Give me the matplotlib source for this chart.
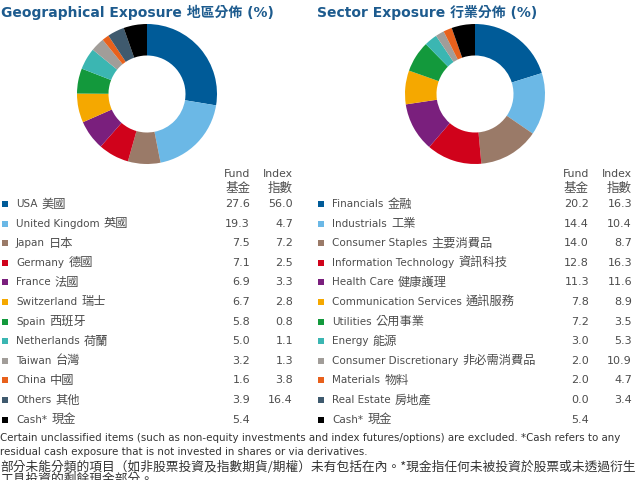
import matplotlib
matplotlib.use("Agg")
import matplotlib.pyplot as plt

plt.rcParams['font.family'] = ['DejaVu Sans', 'Noto Sans CJK TC']

W, H = 636, 480

# Geographical exposure
geo_labels = ["USA 美國", "United Kingdom 英國", "Japan 日本", "Germany 德國", "France 法國",
              "Switzerland 瑞士", "Spain 西班牙", "Netherlands 荷蘭", "Taiwan 台灣", "China 中國",
              "Others 其他", "Cash* 現金"]
geo_fund = [27.6, 19.3, 7.5, 7.1, 6.9, 6.7, 5.8, 5.0, 3.2, 1.6, 3.9, 5.4]
geo_index = ["56.0", "4.7", "7.2", "2.5", "3.3", "2.8", "0.8", "1.1", "1.3", "3.8", "16.4", ""]

# Sector exposure
sec_labels = ["Financials 金融", "Industrials 工業", "Consumer Staples 主要消費品",
              "Information Technology 資訊科技", "Health Care 健康護理",
              "Communication Services 通訊服務", "Utilities 公用事業", "Energy 能源",
              "Consumer Discretionary 非必需消費品", "Materials 物料", "Real Estate 房地產",
              "Cash* 現金"]
sec_fund = [20.2, 14.4, 14.0, 12.8, 11.3, 7.8, 7.2, 3.0, 2.0, 2.0, 0.0, 5.4]
sec_index = ["16.3", "10.4", "8.7", "16.3", "11.6", "8.9", "3.5", "5.3", "10.9", "4.7", "3.4", ""]

colors = ["#005b98", "#6bb8e6", "#9a7a68", "#d0021b", "#7a1f7d", "#f5a800",
          "#13993c", "#3bb6b2", "#a19d99", "#e8611c", "#3f5a6e", "#000000"]

title_color = "#1d5b8e"
text_color = "#4d4d4d"

fig = plt.figure(figsize=(W / 100, H / 100), dpi=100)

# overlay axes in pixel coords for all the text
ov = fig.add_axes([0, 0, 1, 1])
ov.set_xlim(0, W)
ov.set_ylim(H, 0)
ov.axis("off")


def donut(cx, cy, r, vals):
    ax = fig.add_axes([(cx - r) / W, 1 - (cy + r) / H, 2 * r / W, 2 * r / H])
    ax.pie(vals, colors=colors, startangle=90, counterclock=False, radius=1,
           wedgeprops=dict(width=0.45, linewidth=0))
    ax.set_aspect("equal")
    ax.set_xlim(-1, 1)
    ax.set_ylim(-1, 1)
    ax.axis("off")


def label(x, y, s):
    # latin part and chinese part at their own sizes
    latin, cjk = s.rsplit(" ", 1)
    t = ov.text(x, y, latin, fontsize=7.5, color=text_color, va="center", ha="left")
    ov.annotate(cjk, xy=(1, 0.5), xycoords=t, xytext=(3, 0), textcoords="offset points",
                fontsize=8.8, color=text_color, va="center", ha="left",
                family=['Noto Sans CJK TC'])


def panel(x0, title, labels, fund, index, fund_x, index_x, cx):
    ov.text(x0 + 1, 12, title, fontsize=10, fontweight="bold", color=title_color,
            va="center", ha="left")
    donut(cx, 94, 70, fund)
    for hx, en, zh in [(fund_x, "Fund", "基金"), (index_x, "Index", "指數")]:
        ov.text(hx, 174, en, fontsize=7.8, color=text_color, ha="right", va="center")
        ov.text(hx, 188, zh, fontsize=9, color=text_color, ha="right", va="center",
                family=['Noto Sans CJK TC'])
    for i, lab in enumerate(labels):
        y = 204 + i * 19.6
        ov.scatter([x0 + 5], [y], marker="s", s=24, color=colors[i], linewidths=0)
        label(x0 + 16, y, lab)
        ov.text(fund_x, y, f"{fund[i]:.1f}", fontsize=8, color=text_color,
                va="center", ha="right")
        ov.text(index_x, y, index[i], fontsize=8, color=text_color,
                va="center", ha="right")


panel(0, "Geographical Exposure 地區分佈 (%)", geo_labels, geo_fund, geo_index, 250, 293, 147)
panel(316, "Sector Exposure 行業分佈 (%)", sec_labels, sec_fund, sec_index, 589, 632, 475)

notes_en = [
    "Certain unclassified items (such as non-equity investments and index futures/options) are excluded. *Cash refers to any",
    "residual cash exposure that is not invested in shares or via derivatives.",
]
notes_zh = [
    "部分未能分類的項目（如非股票投資及指數期貨/期權）未有包括在內。*現金指任何未被投資於股票或未透過衍生",
    "工具投資的剩餘現金部分。",
]
for j, line in enumerate(notes_en):
    ov.text(0, 438 + j * 14.3, line, fontsize=7.35, color="#333333", va="center", ha="left")
for j, line in enumerate(notes_zh):
    ov.text(0, 467 + j * 12.5, line, fontsize=9.15, color="#333333", va="center", ha="left",
            family=['Noto Sans CJK TC'])

fig.savefig("out.png", dpi=100)
